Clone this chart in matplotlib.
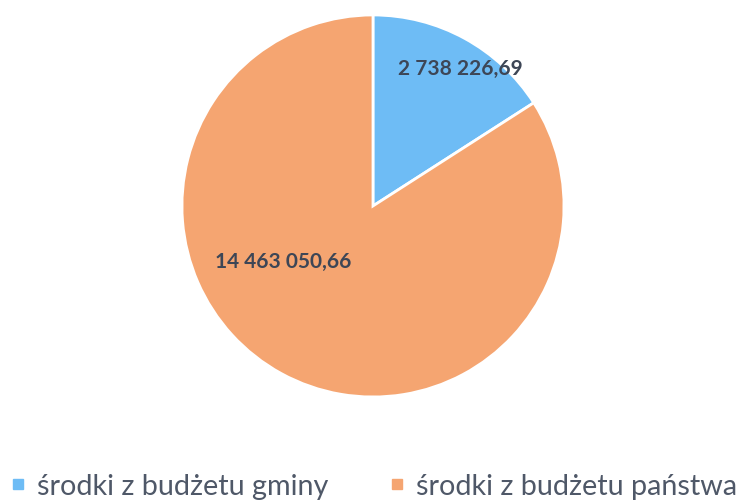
import matplotlib
matplotlib.use("Agg")
import matplotlib.pyplot as plt
from matplotlib.lines import Line2D

categories = ["środki z budżetu gminy", "środki z budżetu państwa"]
values = [2738226.69, 14463050.66]
value_labels = ["2 738 226,69", "14 463 050,66"]
colors = ["#6ebcf5", "#f5a571"]

plt.rcParams['font.family'] = ['Lato', 'DejaVu Sans']

fig = plt.figure(figsize=(7.51, 5.02), dpi=100)
ax = fig.add_axes([0.2423, 0.2072, 0.5087, 0.761])

wedges, texts = ax.pie(values, colors=colors, startangle=90, counterclock=False,
                       wedgeprops=dict(edgecolor="white", linewidth=2),
                       labels=value_labels, labeldistance=0.84,
                       textprops=dict(fontsize=15, fontweight="bold", color="#3d4656",
                                      ha="center", va="center"))
for t in texts:
    t.set_horizontalalignment("center")
# Excel-style placement of the data labels
texts[0].set_position((0.46, 0.72))
texts[1].set_position((-0.47, -0.29))
ax.set_xlim(-1, 1)
ax.set_ylim(-1, 1)
ax.set_aspect("auto")

handles = [Line2D([0], [0], marker="s", linestyle="none", markersize=6.5,
                  markerfacecolor=c, markeredgecolor=c) for c in colors]
fig.legend(handles, categories, loc="center left", bbox_to_anchor=(0.015, 0.03),
           ncol=2, frameon=False, fontsize=20.7, columnspacing=2.15, borderpad=0,
           borderaxespad=0, handletextpad=0.45, handlelength=0.45, labelcolor="#4f5868")

fig.savefig("out.png", dpi=100)
